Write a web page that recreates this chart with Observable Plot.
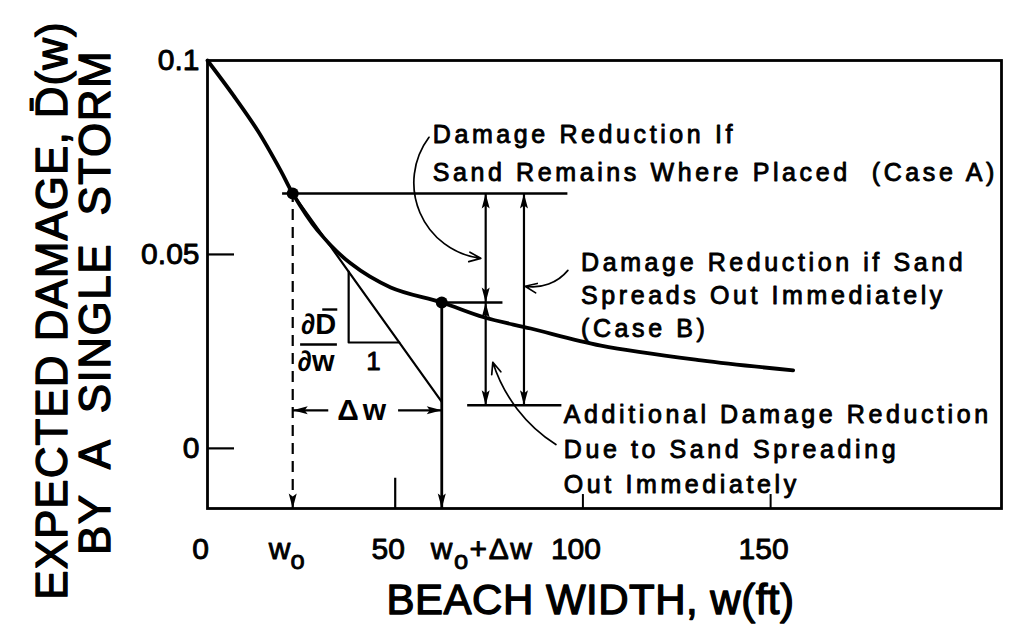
<!DOCTYPE html>
<html><head><meta charset="utf-8">
<script src="https://cdn.jsdelivr.net/npm/d3@7"></script>
<script src="https://cdn.jsdelivr.net/npm/@observablehq/plot@0.6"></script>
<style>
body{margin:0;background:#fff;}
svg text{font-family:"Liberation Sans",Arial,Helvetica,sans-serif;white-space:pre;}
</style>
</head><body><div id="chart"></div>
<script>
// ---- data ----
const curveW = [0, 6.9, 13.3, 19.5, 22.7, 29.3, 38.1, 48.8, 62.4, 73.6, 86.1, 104.8, 131.5, 156];
const curveD = [0.1, 0.091, 0.082, 0.0716, 0.0657, 0.0562, 0.0477, 0.0415, 0.0376, 0.0338, 0.0309, 0.0265, 0.0227, 0.0201];
const xTicks = [0, 50, 100, 150];
const yTicks = [0, 0.05, 0.1];
const yTickLabels = ["0", "0.05", "0.1"];
const w0 = 22.7;          // w_o
const w1 = 62.4;          // w_o + Δw
const D0 = 0.0657;        // D(w_o)
const D1 = 0.0376;        // D(w_o+Δw)
const tangentEndD = 0.012;  // tangent value at w_o+Δw
const lowD = 0.0111;      // level of case-B result
const dwLevel = 0.0098;   // level of Δw dimension arrow
const triX = 37.6, triBaseD = 0.0273;
const xDomain = [0, 211.5];
const yDomain = [-0.0155, 0.1];

const textA = ["Damage Reduction If", "Sand Remains Where Placed  (Case A)"];
const textB = ["Damage Reduction if Sand", "Spreads Out Immediately", "(Case B)"];
const textC = ["Additional Damage Reduction", "Due to Sand Spreading", "Out Immediately"];
const xTitle = "BEACH WIDTH, w(ft)";
const yTitle1 = "EXPECTED DAMAGE, D\u0304(w)";
const yTitle2 = "BY  A  SINGLE  STORM";

// ---- derived ----
const curve = curveW.map((w, i) => ({w, d: curveD[i]}));
const slope = (tangentEndD - D0) / (w1 - w0);
const tanAt = w => D0 + slope * (w - w0);
const wAt = d => w0 + (d - D0) / slope;
const yMin = yDomain[0];

const head = {draw(ctx) { ctx.moveTo(0, 0); ctx.lineTo(4, 15); ctx.lineTo(0, 12); ctx.lineTo(-4, 15); ctx.closePath(); }};
const heads = [
  {w: w0, d: yMin, r: 180}, {w: w1, d: yMin, r: 180},
  {w: w0, d: dwLevel, r: -90}, {w: w1, d: dwLevel, r: 90},
  {w: 74.1, d: D0, r: 0}, {w: 74.1, d: D1, r: 180},
  {w: 74.1, d: D1, r: 0}, {w: 74.1, d: lowD, r: 180},
  {w: 84.3, d: D0, r: 0}, {w: 84.3, d: lowD, r: 180}
];

const annRows = [
  ...textA.map((t, i) => ({t, w: 60, d: 0.0807 - i * 0.0096})),
  ...textB.map((t, i) => ({t, w: 99.5, d: 0.0479 - i * 0.0086})),
  ...textC.map((t, i) => ({t, w: 94.9, d: 0.0085 - i * 0.0090}))
];
const heavy = {fill: "black", stroke: "black", strokeWidth: 0.9};
const heavier = {fill: "black", stroke: "black", strokeWidth: 1.3};
const spacing = new Map([
  ...[...textA, ...textB, ...textC].map(t => [t, 3.6]),
  ["Δw", 4], ["w_o+Δw", 1.5], [xTitle, 0.5], [yTitle1, 1], [yTitle2, 1.5]
]);

const plot = Plot.plot({
  width: 1021, height: 634,
  marginLeft: 207, marginRight: 20, marginTop: 60, marginBottom: 126,
  x: {domain: xDomain, axis: null},
  y: {domain: yDomain, axis: null},
  style: {background: "white", color: "black", overflow: "visible"},
  marks: [
    Plot.frame({stroke: "black", strokeWidth: 2.8}),
    Plot.ruleY([0, 0.05], {x1: 0, x2: 7.2, strokeWidth: 2.2}),
    Plot.ruleX([50], {y1: yMin, y2: yMin + 0.0078, strokeWidth: 2.2}),
    Plot.ruleX([100, 150], {y1: yMin, y2: yMin + 0.0036, strokeWidth: 2}),
    // main curve
    Plot.line(curve, {x: "w", y: "d", curve: "catmull-rom", strokeWidth: 3.8}),
    // tangent + slope triangle
    Plot.line([{w: w0, d: D0}, {w: w1, d: tangentEndD}], {x: "w", y: "d", strokeWidth: 2.2}),
    Plot.line([{w: triX, d: tanAt(triX)}, {w: triX, d: triBaseD}, {w: wAt(triBaseD), d: triBaseD}], {x: "w", y: "d", strokeWidth: 2.2}),
    // horizontal levels
    Plot.ruleY([D0], {x1: 20, x2: 96, strokeWidth: 2.6}),
    Plot.ruleY([D1], {x1: w1, x2: 78.7, strokeWidth: 2.6}),
    Plot.ruleY([lowD], {x1: 69.3, x2: 94.4, strokeWidth: 2.6}),
    // verticals
    Plot.ruleX([w0], {y1: yMin, y2: D0, strokeWidth: 2.2, strokeDasharray: "11,7"}),
    Plot.ruleX([w1], {y1: yMin, y2: D1, strokeWidth: 2.8}),
    Plot.ruleX([74.1], {y1: D0, y2: lowD, strokeWidth: 2.2}),
    Plot.ruleX([84.3], {y1: D0, y2: lowD, strokeWidth: 2.2}),
    // Δw dimension
    Plot.ruleY([dwLevel], {x1: w0, x2: 32.3, strokeWidth: 2.2}),
    Plot.ruleY([dwLevel], {x1: 50.9, x2: w1, strokeWidth: 2.2}),
    Plot.text(["Δw"], {x: 41.6, y: dwLevel, fontSize: 30, fontWeight: "bold", lineAnchor: "middle"}),
    // arrowheads
    Plot.dot(heads, {x: "w", y: "d", rotate: "r", symbol: head, fill: "black", stroke: "none", r: 5}),
    // points
    Plot.dot([{w: w0, d: D0}, {w: w1, d: D1}], {x: "w", y: "d", r: 6, fill: "black"}),
    // leaders
    Plot.arrow([{x1: 59, y1: 0.0802, x2: 72.8, y2: 0.0490}], {x1: "x1", y1: "y1", x2: "x2", y2: "y2", bend: -60, strokeWidth: 1.7, headLength: 11, headAngle: 45}),
    Plot.arrow([{x1: 96, y1: 0.0459, x2: 84.6, y2: 0.0418}], {x1: "x1", y1: "y1", x2: "x2", y2: "y2", bend: 30, strokeWidth: 1.7, headLength: 11, headAngle: 45}),
    Plot.arrow([{x1: 92.8, y1: 0.0010, x2: 76, y2: 0.0222}], {x1: "x1", y1: "y1", x2: "x2", y2: "y2", bend: 20, strokeWidth: 1.7, headLength: 11, headAngle: 45}),
    // ∂D/∂w label
    Plot.text(["∂D"], {x: 29.6, y: 0.032, fontSize: 29, fontWeight: "bold", lineAnchor: "middle"}),
    Plot.ruleY([0.0268], {x1: 24.8, x2: 34.6, strokeWidth: 2.4}),
    Plot.ruleY([0.0358], {x1: 30.7, x2: 34.7, strokeWidth: 2.4}),
    Plot.text(["∂w"], {x: 28.9, y: 0.0224, fontSize: 29, fontWeight: "bold", lineAnchor: "middle"}),
    Plot.text(["1"], {x: 44.2, y: 0.0224, fontSize: 26, lineAnchor: "middle", ...heavy}),
    // annotations
    Plot.text(annRows, {x: "w", y: "d", text: "t", textAnchor: "start", lineAnchor: "middle", fontSize: 25, ...heavy}),
    // tick labels
    Plot.text(xTicks, {x: d => d, frameAnchor: "bottom", dy: 41, dx: -7, text: d => String(d), fontSize: 30, lineAnchor: "middle", ...heavy}),
    Plot.text(["w_o"], {x: w0, frameAnchor: "bottom", dy: 41, dx: -6, fontSize: 30, lineAnchor: "middle", ...heavy}),
    Plot.text(["w_o+Δw"], {x: w1, frameAnchor: "bottom", dy: 41, dx: -11, textAnchor: "start", fontSize: 30, lineAnchor: "middle", ...heavy}),
    Plot.text(yTicks, {y: d => d, frameAnchor: "left", dx: -8, text: (d, i) => yTickLabels[i], textAnchor: "end", fontSize: 30, lineAnchor: "middle", ...heavy}),
    // axis titles
    Plot.text([xTitle], {frameAnchor: "bottom", dx: -14, dy: 92, fontSize: 42, lineAnchor: "middle", textAnchor: "middle", ...heavier}),
    Plot.text([yTitle1], {frameAnchor: "left", dx: -155, dy: 26, rotate: -90, fontSize: 44, lineAnchor: "middle", textAnchor: "middle", ...heavier}),
    Plot.text([yTitle2], {frameAnchor: "left", dx: -112, dy: 18, rotate: -90, fontSize: 44, lineAnchor: "middle", textAnchor: "middle", ...heavier})
  ]
});

d3.select(plot).selectAll("text").each(function() {
  const s = this.textContent;
  if (spacing.has(s)) this.setAttribute("letter-spacing", spacing.get(s));
  // subscripts for w_o labels
  if (s.includes("_o")) {
    const parts = s.split("_o");
    const el = d3.select(this);
    el.text(null);
    el.append("tspan").text(parts[0]);
    el.append("tspan").attr("dy", "0.38em").attr("font-size", "0.85em").text("o");
    if (parts[1]) el.append("tspan").attr("dy", "-0.32em").text(parts[1]);
  }
});
document.getElementById("chart").appendChild(plot);
</script>
</body></html>
